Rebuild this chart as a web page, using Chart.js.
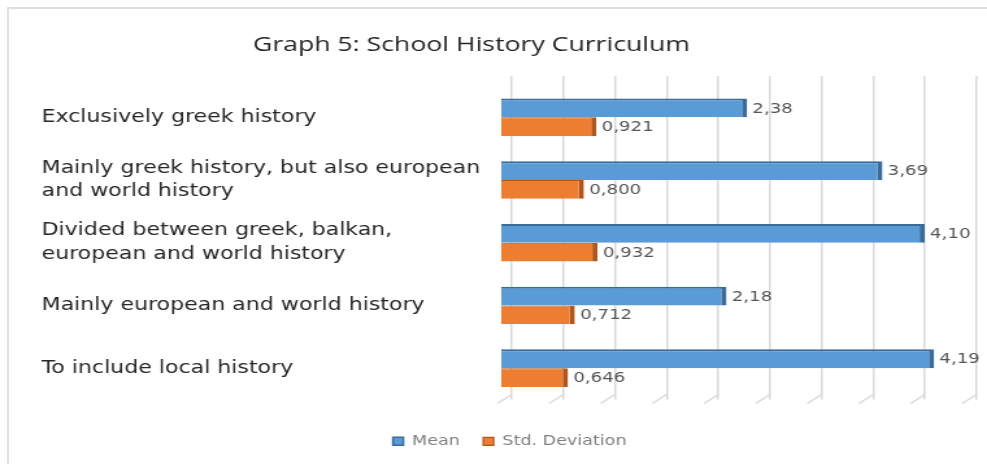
<!DOCTYPE html>
<html>
<head>
<meta charset="utf-8">
<script src="https://cdn.jsdelivr.net/npm/chart.js@4.4.1/dist/chart.umd.min.js"></script>
<style>
  html, body { margin: 0; padding: 0; background: #fff; overflow: hidden; }
  body { width: 987px; height: 464px; position: relative; }
  /* thin frame of the original picture */
  #frame { position: absolute; left: 7px; top: 7px; width: 1000px; height: 480px; border: 2px solid #e0e0e0; }
  /* the original image is stretched horizontally, so the chart is drawn narrow and widened */
  #wrap { position: absolute; left: 0; top: 0; width: 760px; height: 464px; transform: scaleX(1.2987); transform-origin: 0 0; }
</style>
</head>
<body>
<div id="frame"></div>
<div id="wrap"><canvas id="chart"></canvas></div>
<script>
const chartTitle = 'Graph 5: School History Curriculum';
const categories = [
    'Exclusively greek history',
    ['Mainly greek history, but also european', 'and world history'],
    ['Divided between greek, balkan,', 'european and world history'],
    'Mainly european and world history',
    'To include local history'
];
const seriesNames = ['Mean', 'Std. Deviation'];
const meanValues = [2.38, 3.69, 4.10, 2.18, 4.19];
const stdValues = [0.921, 0.800, 0.932, 0.712, 0.646];
const labelDecimals = [2, 3];
const gridStep = 0.5;

// title drawn where the original has it (slightly left of centre)
const titlePlugin = {
    id: 'titleText',
    afterDraw(chart) {
        const ctx = chart.ctx;
        ctx.save();
        ctx.font = '20.5px "Open Sans"';
        ctx.fillStyle = '#262626';
        ctx.textAlign = 'center';
        ctx.textBaseline = 'middle';
        ctx.fillText(chartTitle, 363, 45);
        ctx.restore();
    }
};

// slanted feet of the 3d grid walls
const gridFeet = {
    id: 'gridFeet',
    beforeDatasetsDraw(chart) {
        const sc = chart.scales.x2;
        const bottom = chart.chartArea.bottom;
        const ctx = chart.ctx;
        ctx.save();
        ctx.strokeStyle = '#d9d9d9';
        ctx.lineWidth = 1.5;
        sc.ticks.forEach(t => {
            const x = sc.getPixelForValue(t.value);
            ctx.beginPath();
            ctx.moveTo(x, bottom - 5);
            ctx.lineTo(x - 11, bottom + 4);
            ctx.stroke();
        });
        ctx.restore();
    }
};

// value labels at the end of each bar, decimal comma
const valueLabels = {
    id: 'valueLabels',
    afterDatasetsDraw(chart) {
        const ctx = chart.ctx;
        ctx.save();
        ctx.font = '14px "DejaVu Sans"';
        ctx.fillStyle = '#555';
        ctx.textAlign = 'left';
        ctx.textBaseline = 'middle';
        chart.data.datasets.forEach((ds, i) => {
            chart.getDatasetMeta(i).data.forEach((bar, j) => {
                const txt = ds.data[j].toFixed(labelDecimals[i]).replace('.', ',');
                ctx.fillText(txt, bar.x + 4, bar.y + 1);
            });
        });
        ctx.restore();
    }
};

new Chart(document.getElementById('chart'), {
    type: 'bar',
    data: {
        labels: categories,
        datasets: [{
            label: seriesNames[0],
            data: meanValues,
            backgroundColor: '#5b9bd5',
            borderColor: '#3a6c9b',
            borderWidth: { right: 4, top: 2 },
            borderSkipped: false,
            xAxisID: 'x'
        }, {
            label: seriesNames[1],
            data: stdValues,
            backgroundColor: '#ed7d31',
            borderColor: '#ad571d',
            borderWidth: { right: 4, top: 1 },
            borderSkipped: false,
            xAxisID: 'x'
        }]
    },
    options: {
        indexAxis: 'y',
        responsive: true,
        maintainAspectRatio: false,
        animation: false,
        categoryPercentage: 0.6,
        barPercentage: 1,
        layout: { padding: { left: 32, right: 7, top: 76, bottom: 6 } },
        scales: {
            x: {
                position: 'bottom',
                min: 0,
                max: 4.614,
                grid: { display: false },
                border: { display: false },
                ticks: { display: false },
                afterFit: function (s) { s.height = 17; }
            },
            x2: {
                position: 'top',
                min: -0.1,
                max: 4.514,
                grid: { color: '#d9d9d9', lineWidth: 1.5, drawTicks: true, tickLength: 10 },
                border: { display: false },
                ticks: { display: false, stepSize: gridStep, includeBounds: false },
                afterFit: function (s) { s.height = 10; }
            },
            y: {
                grid: { display: false },
                border: { display: false },
                ticks: {
                    crossAlign: 'far',
                    color: '#262626',
                    font: { family: '"DejaVu Sans"', size: 17, lineHeight: 1.4 }
                },
                afterFit: function (s) { s.width = 354; }
            }
        },
        plugins: {
            title: { display: false },
            tooltip: { enabled: false },
            legend: {
                position: 'bottom',
                labels: {
                    boxWidth: 8,
                    boxHeight: 8,
                    padding: 18,
                    color: '#7f7f7f',
                    font: { family: '"DejaVu Sans"', size: 13.5 }
                }
            }
        }
    },
    plugins: [titlePlugin, gridFeet, valueLabels]
});
</script>
</body>
</html>
